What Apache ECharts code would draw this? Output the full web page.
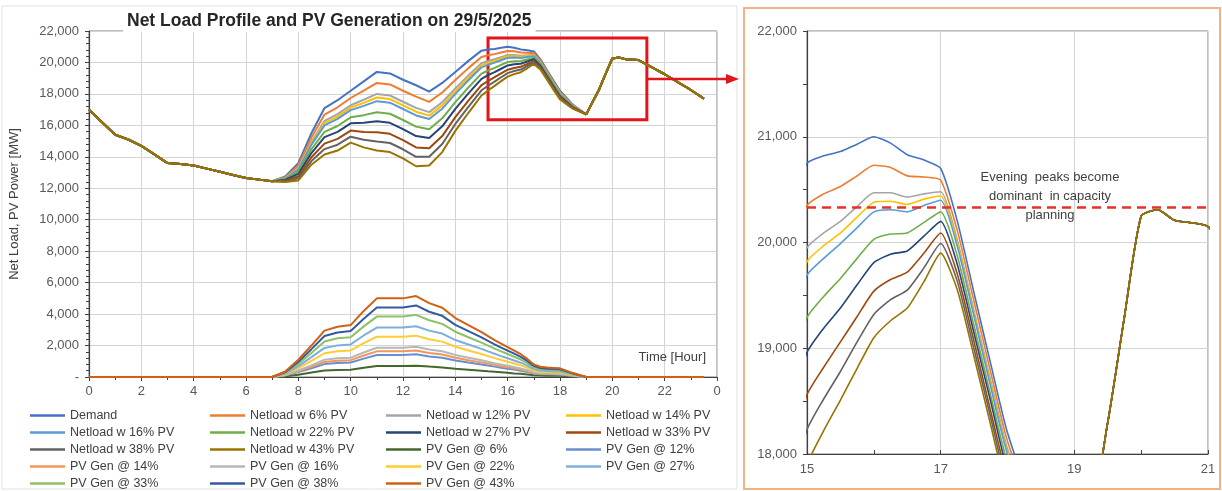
<!DOCTYPE html>
<html><head><meta charset="utf-8">
<script src="https://cdn.jsdelivr.net/npm/echarts@6/dist/echarts.min.js"></script>
<style>html,body{margin:0;padding:0;background:#fff}#c{width:1222px;height:491px}</style>
</head><body><div id="c"></div>
<script>
// ---- time axis (hours) ----
const hours = [0,0.5,1,1.5,2,2.5,3,3.5,4,4.5,5,5.5,6,6.5,7,
  7.5,8,8.5,9,9.5,10,10.5,11,11.5,12,12.5,13,13.5,14,14.5,
  15,15.25,15.5,15.75,16,16.25,16.5,16.75,17,17.25,17.5,17.75,18,18.5,
  19,19.5,19.75,20,20.25,20.5,21,21.5,22,22.5,23,23.5];

// ---- net load series [MW] ----
const demand = [17000,16200,15400,15100,14700,14150,13600,13550,13450,13250,13050,12850,12650,12550,12450,
  12750,13600,15500,17100,17600,18200,18800,19400,19300,18900,18550,18150,18700,19400,20100,
  20750,20820,20860,20930,21000,20940,20830,20780,20700,20200,19520,18850,18200,17300,
  16700,18300,19300,20250,20310,20210,20150,19700,19250,18750,18250,17700];
const netload6 = [17000,16200,15400,15100,14700,14150,13600,13550,13450,13250,13050,12850,12650,12550,12450,
  12700,13450,15220,16690,17150,17740,18210,18700,18600,18200,17830,17490,18090,18880,19640,
  20350,20460,20530,20630,20730,20710,20630,20620,20590,20110,19440,18770,18120,17270,
  16700,18300,19300,20250,20310,20210,20150,19700,19250,18750,18250,17700];
const netload12 = [17000,16200,15400,15100,14700,14150,13600,13550,13450,13250,13050,12850,12650,12550,12450,
  12650,13290,14940,16280,16710,17280,17630,18000,17900,17500,17110,16840,17470,18350,19180,
  19950,20090,20200,20340,20470,20470,20430,20460,20480,20020,19350,18690,18050,17230,
  16700,18300,19300,20250,20310,20210,20150,19700,19250,18750,18250,17700];
const netload14 = [17000,16200,15400,15100,14700,14150,13600,13550,13450,13250,13050,12850,12650,12550,12450,
  12640,13240,14850,16140,16560,17130,17430,17770,17670,17270,16870,16620,17270,18180,19030,
  19820,19970,20090,20240,20380,20390,20360,20410,20440,19990,19320,18660,18020,17220,
  16700,18300,19300,20250,20310,20210,20150,19700,19250,18750,18250,17700];
const netload16 = [17000,16200,15400,15100,14700,14150,13600,13550,13450,13250,13050,12850,12650,12550,12450,
  12620,13190,14760,16000,16410,16970,17240,17540,17440,17040,16630,16400,17060,18000,18870,
  19690,19850,19990,20140,20290,20310,20290,20350,20400,19960,19300,18630,18000,17210,
  16700,18300,19300,20250,20310,20210,20150,19700,19250,18750,18250,17700];
const netload22 = [17000,16200,15400,15100,14700,14150,13600,13550,13450,13250,13050,12850,12650,12550,12450,
  12570,13040,14480,15590,15960,16510,16650,16840,16740,16340,15920,15750,16450,17480,18410,
  19290,19490,19660,19850,20030,20080,20090,20190,20290,19870,19210,18550,17920,17170,
  16700,18300,19300,20250,20310,20210,20150,19700,19250,18750,18250,17700];
const netload27 = [17000,16200,15400,15100,14700,14150,13600,13550,13450,13250,13050,12850,12650,12550,12450,
  12530,12910,14240,15250,15590,16130,16160,16260,16160,15760,15320,15200,15940,17050,18030,
  18960,19190,19380,19600,19810,19890,19920,20060,20200,19790,19140,18490,17850,17140,
  16700,18300,19300,20250,20310,20210,20150,19700,19250,18750,18250,17700];
const netload33 = [17000,16200,15400,15100,14700,14150,13600,13550,13450,13250,13050,12850,12650,12550,12450,
  12480,12760,13970,14840,15140,15670,15580,15560,15460,15060,14600,14540,15320,16520,17570,
  18560,18820,19060,19300,19540,19650,19720,19900,20090,19700,19060,18400,17780,17110,
  16700,18300,19300,20250,20310,20210,20150,19700,19250,18750,18250,17700];
const netload38 = [17000,16200,15400,15100,14700,14150,13600,13550,13450,13250,13050,12850,12650,12550,12450,
  12440,12630,13730,14490,14770,15280,15090,14980,14880,14480,14000,14000,14810,16090,17180,
  18230,18520,18780,19060,19320,19460,19550,19760,19990,19630,18990,18340,17710,17080,
  16700,18300,19300,20250,20310,20210,20150,19700,19250,18750,18250,17700];
const netload43 = [17000,16200,15400,15100,14700,14150,13600,13550,13450,13250,13050,12850,12650,12550,12450,
  12400,12500,13500,14150,14400,14900,14600,14400,14300,13900,13400,13450,14300,15650,16800,
  17900,18220,18510,18810,19100,19260,19380,19630,19900,19550,18920,18270,17650,17050,
  16700,18300,19300,20250,20310,20210,20150,19700,19250,18750,18250,17700];

// ---- PV generation series [MW] ----
const pv6 = [0,0,0,0,0,0,0,0,0,0,0,0,0,0,0,
  50,150,280,410,450,460,590,700,700,700,720,660,610,520,460,
  400,360,330,300,270,230,200,160,110,90,80,80,80,35,
  0,0,0,0,0,0,0,0,0,0,0,0];
const pv12 = [0,0,0,0,0,0,0,0,0,0,0,0,0,0,0,
  100,310,560,820,890,920,1170,1400,1400,1400,1440,1310,1230,1050,920,
  800,730,660,590,530,470,400,320,220,180,170,160,150,70,
  0,0,0,0,0,0,0,0,0,0,0,0];
const pv14 = [0,0,0,0,0,0,0,0,0,0,0,0,0,0,0,
  110,360,650,960,1040,1070,1370,1630,1630,1630,1680,1530,1430,1220,1070,
  930,850,770,690,620,550,470,370,260,210,200,190,180,80,
  0,0,0,0,0,0,0,0,0,0,0,0];
const pv16 = [0,0,0,0,0,0,0,0,0,0,0,0,0,0,0,
  130,410,740,1100,1190,1230,1560,1860,1860,1860,1920,1750,1640,1400,1230,
  1060,970,870,790,710,630,540,430,300,240,220,220,200,90,
  0,0,0,0,0,0,0,0,0,0,0,0];
const pv22 = [0,0,0,0,0,0,0,0,0,0,0,0,0,0,0,
  180,560,1020,1510,1640,1690,2150,2560,2560,2560,2630,2400,2250,1920,1690,
  1460,1330,1200,1080,970,860,740,590,410,330,310,300,280,130,
  0,0,0,0,0,0,0,0,0,0,0,0];
const pv27 = [0,0,0,0,0,0,0,0,0,0,0,0,0,0,0,
  220,690,1260,1850,2010,2070,2640,3140,3140,3140,3230,2950,2760,2350,2070,
  1790,1630,1480,1330,1190,1050,910,720,500,410,380,360,350,160,
  0,0,0,0,0,0,0,0,0,0,0,0];
const pv33 = [0,0,0,0,0,0,0,0,0,0,0,0,0,0,0,
  270,840,1530,2260,2460,2530,3220,3840,3840,3840,3950,3610,3380,2880,2530,
  2190,2000,1800,1630,1460,1290,1110,880,610,500,460,450,420,190,
  0,0,0,0,0,0,0,0,0,0,0,0];
const pv38 = [0,0,0,0,0,0,0,0,0,0,0,0,0,0,0,
  310,970,1770,2610,2830,2920,3710,4420,4420,4420,4550,4150,3890,3310,2920,
  2520,2300,2080,1870,1680,1480,1280,1020,710,570,530,510,490,220,
  0,0,0,0,0,0,0,0,0,0,0,0];
const pv43 = [0,0,0,0,0,0,0,0,0,0,0,0,0,0,0,
  350,1100,2000,2950,3200,3300,4200,5000,5000,5000,5150,4700,4400,3750,3300,
  2850,2600,2350,2120,1900,1680,1450,1150,800,650,600,580,550,250,
  0,0,0,0,0,0,0,0,0,0,0,0];

// ---- names ----
const netNames = ['Demand','Netload w 6% PV','Netload w 12% PV','Netload w 14% PV','Netload w 16% PV',
  'Netload w 22% PV','Netload w 27% PV','Netload w 33% PV','Netload w 38% PV','Netload w 43% PV'];
const pvNames = ['PV Gen @ 6%','PV Gen @ 12%','PV Gen @ 14%','PV Gen @ 16%','PV Gen @ 22%',
  'PV Gen @ 27%','PV Gen @ 33%','PV Gen @ 38%','PV Gen @ 43%'];
const netSeries = [demand,netload6,netload12,netload14,netload16,netload22,netload27,netload33,netload38,netload43];
const pvSeries = [pv6,pv12,pv14,pv16,pv22,pv27,pv33,pv38,pv43];

// annotation values (data space)
const peakLine = 20330;
const zoomBox = [15.25, 21.32, 16350, 21550];
const arrowY = 18950;

// ---- styles ----
const netColors = ['#4472C4','#ED7D31','#A5A5A5','#FFC000','#5B9BD5','#70AD47','#264478','#9E480E','#636363','#997300'];
const pvColors = ['#43682B','#698ED0','#F1975A','#B7B7B7','#FFCD33','#7CAFDD','#8CC168','#335AA1','#D26012'];
const FONT = "'Liberation Sans', Arial, sans-serif";

const pair = arr => hours.map((h, i) => [h, arr[i]]);
const fmtNum = v => v === 0 ? '-' : v.toLocaleString('en-US');

const series = [];
netSeries.forEach((arr, i) => {
  const s = {type:'line', name: netNames[i], xAxisIndex:0, yAxisIndex:0, data: pair(arr),
    symbol:'none', color: netColors[i], lineStyle:{width:2, color: netColors[i]}, z: 2};
  if (i === 0) {
    s.markArea = {silent:true, itemStyle:{color:'rgba(0,0,0,0)', borderColor:'#e3141b', borderWidth:3},
      data:[[{coord:[zoomBox[0], zoomBox[3]]},{coord:[zoomBox[1], zoomBox[2]]}]]};
  }
  series.push(s);
});
pvSeries.forEach((arr, i) => {
  series.push({type:'line', name: pvNames[i], xAxisIndex:0, yAxisIndex:0, data: pair(arr),
    symbol:'none', color: pvColors[i], lineStyle:{width:2, color: pvColors[i]}, z: 2});
});
netSeries.forEach((arr, i) => {
  const s = {type:'line', name: netNames[i], xAxisIndex:1, yAxisIndex:1, data: pair(arr),
    symbol:'none', color: netColors[i], lineStyle:{width:1.6, color: netColors[i]},
    smooth:0.2, clip:true, z: 2};
  if (i === 0) {
    s.markLine = {silent:true, symbol:'none', label:{show:false}, z: 5,
      lineStyle:{color:'#e8302a', type:[9,6], width:2.5}, data:[{yAxis: peakLine}]};
  }
  series.push(s);
});

// legend: 4 columns x 5 rows (row-major order as in the original)
const allNames = netNames.concat(pvNames);
const colLeft = [30, 210, 386, 566];
const legends = colLeft.map((x, c) => ({
  left:x, top:408, padding:0, orient:'vertical', itemWidth:35, itemHeight:2.5, itemGap:2, icon:'rect',
  data: allNames.filter((n, i) => i % 4 === c),
  textStyle:{fontSize:12.5, color:'#404040', fontFamily:FONT, lineHeight:15}
}));

const axisLbl = {color:'#595959', fontSize:13, fontFamily:FONT};
const chart = echarts.init(document.getElementById('c'), null, {renderer:'canvas'});
const option = {
  animation:false,
  backgroundColor:'#fff',
  textStyle:{fontFamily:FONT},
  title:{text:'Net Load Profile and PV Generation on 29/5/2025', left:123, top:10,
    backgroundColor:'#fff', padding:[2,4],
    textStyle:{fontSize:17.5, fontWeight:'bold', color:'#262626', fontFamily:FONT}},
  legend: legends,
  grid:[
    {left:89, top:31, width:628, height:346, show:true, borderColor:'#7f7f7f', borderWidth:1},
    {left:807, top:31, width:401, height:423, show:true, borderColor:'#7f7f7f', borderWidth:1}
  ],
  xAxis:[
    {type:'value', gridIndex:0, min:0, max:24, interval:2,
      axisLine:{show:true, lineStyle:{color:'#404040', width:1.2}},
      axisTick:{show:true, length:4, lineStyle:{color:'#404040'}},
      minorTick:{show:true, splitNumber:2, length:3, lineStyle:{color:'#404040'}},
      splitLine:{show:true, lineStyle:{color:'#d4d4d4'}},
      axisLabel:Object.assign({margin:8, formatter: v => String(v % 24)}, axisLbl)},
    {type:'value', gridIndex:1, min:15, max:21, interval:2,
      axisLine:{show:true, lineStyle:{color:'#404040', width:1.2}},
      axisTick:{show:true, inside:true, length:4, lineStyle:{color:'#404040'}},
      minorTick:{show:true, splitNumber:2, length:4, lineStyle:{color:'#404040'}},
      splitLine:{show:true, lineStyle:{color:'#d4d4d4'}},
      axisLabel:Object.assign({margin:9}, axisLbl)}
  ],
  yAxis:[
    {type:'value', gridIndex:0, min:0, max:22000, interval:2000,
      name:'Net Load, PV Power [MW]', nameLocation:'middle', nameGap:68,
      nameTextStyle:{color:'#404040', fontSize:13, fontFamily:FONT},
      axisLine:{show:true, lineStyle:{color:'#404040', width:1.2}},
      axisTick:{show:true, length:4, lineStyle:{color:'#404040'}},
      minorTick:{show:true, splitNumber:5, length:3, lineStyle:{color:'#404040'}},
      splitLine:{show:true, lineStyle:{color:'#d4d4d4'}},
      axisLabel:Object.assign({margin:10, formatter: fmtNum}, axisLbl)},
    {type:'value', gridIndex:1, min:18000, max:22000, interval:1000,
      axisLine:{show:true, lineStyle:{color:'#404040', width:1.2}},
      axisTick:{show:true, length:4, lineStyle:{color:'#404040'}},
      minorTick:{show:true, splitNumber:2, length:4, lineStyle:{color:'#404040'}},
      splitLine:{show:true, lineStyle:{color:'#d4d4d4'}},
      axisLabel:Object.assign({margin:10, formatter: fmtNum}, axisLbl)}
  ],
  series: series
};
chart.setOption(option);

// annotations (graphic) placed from data coordinates where relevant
const boxRight = chart.convertToPixel({xAxisIndex:0, yAxisIndex:0}, [zoomBox[1], arrowY]);
const rightLeft = chart.convertToPixel({xAxisIndex:1, yAxisIndex:1}, [15, 20000]);
const tipX = rightLeft[0] - 68;
chart.setOption({graphic:[
  {type:'rect', shape:{x:2, y:6, width:735, height:483}, style:{fill:'none', stroke:'#e2e2e2', lineWidth:1}, z:0, silent:true},
  {type:'rect', shape:{x:744, y:8, width:476, height:481}, style:{fill:'none', stroke:'#f4b183', lineWidth:2}, z:0, silent:true},
  {type:'line', shape:{x1:boxRight[0], y1:boxRight[1], x2:tipX-12, y2:boxRight[1]}, style:{stroke:'#e3141b', lineWidth:2.5}, z:10, silent:true},
  {type:'polygon', shape:{points:[[tipX-13, boxRight[1]-5],[tipX, boxRight[1]],[tipX-13, boxRight[1]+5]]}, style:{fill:'#e3141b'}, z:10, silent:true},
  {type:'text', x:706, y:357, style:{text:'Time [Hour]', fill:'#404040', font:"13px 'Liberation Sans', Arial, sans-serif", align:'right', verticalAlign:'middle'}, z:10, silent:true},
  {type:'text', x:1050, y:196, style:{text:'Evening  peaks become\ndominant  in capacity\nplanning', fill:'#404040',
    font:"13px 'Liberation Sans', Arial, sans-serif", align:'center', verticalAlign:'middle', lineHeight:19}, z:20, silent:true}
]});
</script></body></html>
